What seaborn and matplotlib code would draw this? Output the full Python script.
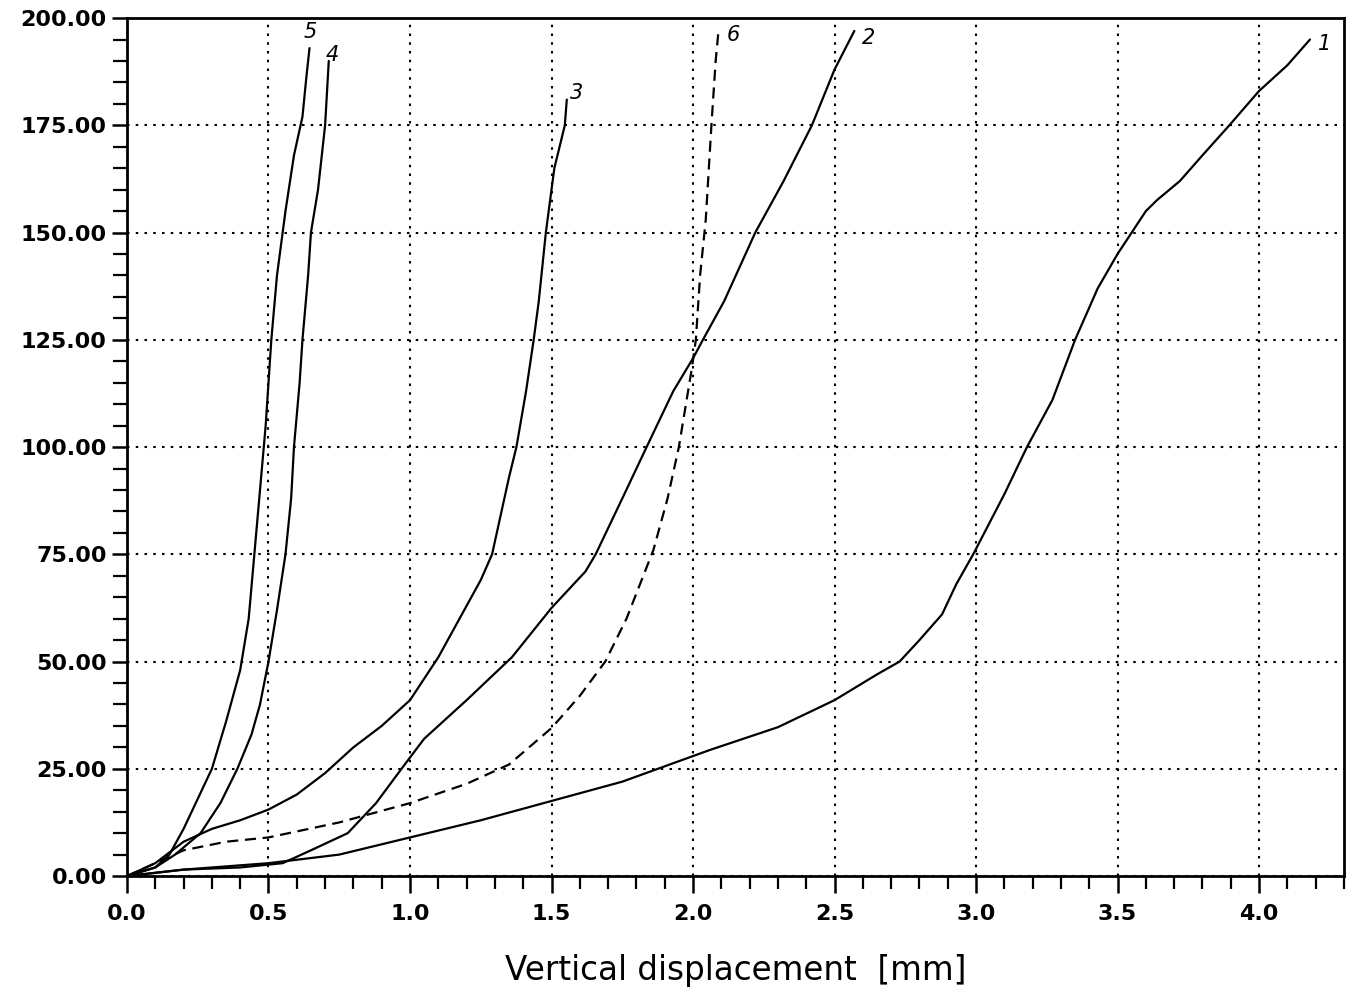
import numpy as np
import pandas as pd
import matplotlib
matplotlib.use("Agg")
import matplotlib.pyplot as plt
import seaborn as sns
from matplotlib.ticker import MultipleLocator, FormatStrFormatter

# ---- data ----
c1_x = [0, 0.2, 0.5, 0.75, 1.0, 1.25, 1.5, 1.75, 2.06, 2.3, 2.5, 2.55, 2.65, 2.73, 2.8, 2.88, 2.93, 2.99, 3.1, 3.18, 3.27, 3.35, 3.43, 3.5, 3.55, 3.6, 3.64, 3.72, 3.8, 3.895, 4.0, 4.1, 4.18]
c1_y = [0, 1.5, 3, 5, 9, 13, 17.5, 22, 29.4, 34.7, 41, 43, 47, 50, 55, 61, 68, 75, 89, 100, 111, 125, 137, 145, 150, 155, 157.6, 162, 168, 175, 183, 189, 195]

c2_x = [0, 0.2, 0.4, 0.55, 0.65, 0.78, 0.88, 0.97, 1.05, 1.2, 1.36, 1.5, 1.62, 1.656, 1.75, 1.836, 1.93, 2.0, 2.035, 2.11, 2.22, 2.32, 2.42, 2.5, 2.57]
c2_y = [0, 1.5, 2, 3, 6, 10, 17, 25, 32, 41, 51, 62.5, 71, 75, 88, 100, 113, 120.7, 125, 134, 150, 162, 175, 188, 197]

c3_x = [0, 0.1, 0.2, 0.3, 0.4, 0.5, 0.6, 0.7, 0.8, 0.9, 1.0, 1.1, 1.2, 1.25, 1.29, 1.32, 1.35, 1.376, 1.41, 1.437, 1.455, 1.48, 1.51, 1.547, 1.554]
c3_y = [0, 3, 8, 11, 13, 15.5, 19, 24, 30, 35, 41, 51, 63, 69, 75, 84, 93, 100, 113, 125, 134, 150, 165, 175, 181]

c4_x = [0, 0.1, 0.17, 0.26, 0.33, 0.39, 0.44, 0.47, 0.5, 0.53, 0.56, 0.58, 0.59, 0.61, 0.62, 0.64, 0.65, 0.675, 0.7, 0.713]
c4_y = [0, 2, 5, 10, 17, 25, 33, 40, 50, 62, 75, 88, 100, 115, 125, 140, 150, 160, 175, 190]

c5_x = [0, 0.1, 0.15, 0.2, 0.25, 0.3, 0.35, 0.4, 0.43, 0.45, 0.47, 0.49, 0.51, 0.53, 0.56, 0.59, 0.62, 0.635, 0.645]
c5_y = [0, 2, 5, 11, 18, 25, 36, 48, 60, 75, 90, 105, 125, 140, 155, 168, 177, 187, 193]

c6_x = [0, 0.1, 0.2, 0.35, 0.5, 0.75, 1.0, 1.2, 1.35, 1.5, 1.6, 1.69, 1.765, 1.86, 1.91, 1.95, 1.995, 2.01, 2.025, 2.045, 2.065, 2.08, 2.09]
c6_y = [0, 3, 6, 8, 9, 12.5, 17, 21.5, 26, 34.5, 42, 50, 60, 76, 88, 100, 118, 125, 140, 153, 175, 190, 197]

curve_labels = ["1", "2", "3", "4", "5", "6"]
label_x = [4.23, 2.62, 1.59, 0.727, 0.646, 2.143]
label_y = [194, 195.3, 182.5, 191.4, 196.7, 196]

x_ticks = [0.0, 0.5, 1.0, 1.5, 2.0, 2.5, 3.0, 3.5, 4.0]
y_ticks = [0, 25, 50, 75, 100, 125, 150, 175, 200]
x_label = "Vertical displacement  [mm]"

# ---- plot ----
sns.set_theme(style="white")
plt.rcParams['font.family'] = ['DejaVu Sans']

fig = plt.figure(figsize=(13.64, 9.98), dpi=100)
ax = fig.add_axes([0.0931, 0.1222, 0.8922, 0.8597])

curves = [(c1_x, c1_y, '-'), (c2_x, c2_y, '-'), (c3_x, c3_y, '-'),
          (c4_x, c4_y, '-'), (c5_x, c5_y, '-'), (c6_x, c6_y, '--')]
for (xs, ys, ls) in curves:
    df = pd.DataFrame({"x": xs, "y": ys})
    sns.lineplot(data=df, x="x", y="y", sort=False, estimator=None, ax=ax,
                 color="black", linewidth=1.6, linestyle=ls)
ax.lines[-1].set_dashes([5, 3])

for t, lx, ly in zip(curve_labels, label_x, label_y):
    ax.text(lx, ly, t, fontsize=15, ha="center", va="center", color="black",
            style="italic", fontweight="light")

ax.set_xlim(0, 4.3)
ax.set_ylim(0, 200)
ax.set_xticks(x_ticks)
ax.set_yticks(y_ticks)
ax.xaxis.set_minor_locator(MultipleLocator(0.1))
ax.yaxis.set_minor_locator(MultipleLocator(5))
ax.xaxis.set_major_formatter(FormatStrFormatter("%.1f"))
ax.yaxis.set_major_formatter(FormatStrFormatter("%.2f"))

ax.tick_params(axis="both", which="major", direction="out", length=11, width=1.8,
               color="black", labelsize=16, labelcolor="black")
ax.tick_params(axis="both", which="minor", direction="out", length=10, width=1.6,
               color="black")
ax.tick_params(axis="x", which="major", length=12, pad=8)
ax.tick_params(axis="x", which="minor", length=9)
ax.tick_params(top=False, right=False, which="both")
ax.xaxis.set_ticks_position("bottom")
ax.yaxis.set_ticks_position("left")
for lbl in ax.get_xticklabels() + ax.get_yticklabels():
    lbl.set_fontweight("semibold")

ax.grid(True, which="major", color="black", linestyle=(0, (1.2, 3.0)), linewidth=1.5)
ax.grid(False, which="minor")

for s in ax.spines.values():
    s.set_color("black")
    s.set_linewidth(2.0)
    s.set_visible(True)

ax.set_xlabel(x_label, fontsize=23.5, labelpad=22, color="black")
ax.set_ylabel("")

fig.savefig("out.png", dpi=100, facecolor="white")
